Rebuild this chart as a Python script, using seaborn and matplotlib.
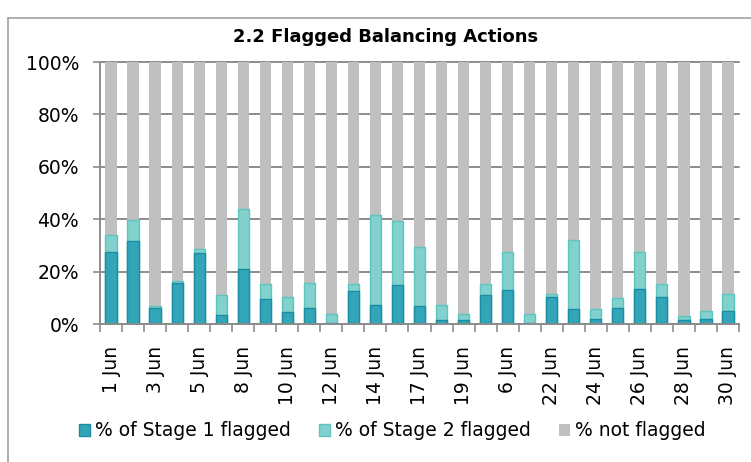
import seaborn as sns
import matplotlib.pyplot as plt
import pandas as pd
from matplotlib.lines import Line2D
from matplotlib.ticker import FuncFormatter

# 29 days shown; only every other label is drawn on the axis
days = ['1 Jun', '2 Jun', '3 Jun', '4 Jun', '5 Jun', '7 Jun', '8 Jun', '9 Jun',
        '10 Jun', '11 Jun', '12 Jun', '13 Jun', '14 Jun', '16 Jun', '17 Jun',
        '18 Jun', '19 Jun', '20 Jun', '6 Jun', '21 Jun', '22 Jun', '23 Jun',
        '24 Jun', '25 Jun', '26 Jun', '27 Jun', '28 Jun', '29 Jun', '30 Jun']
stage1 = [27.6, 31.5, 6.0, 15.8, 27.0, 3.4, 21.1, 9.4, 4.5, 6.2, 0.3, 12.7,
          7.4, 14.9, 6.9, 1.4, 1.4, 11.1, 12.9, 0.4, 10.2, 5.6, 2.0, 6.2,
          13.5, 10.2, 1.7, 2.0, 4.8]
stage2 = [6.2, 8.3, 0.8, 0.5, 1.8, 7.6, 22.9, 5.9, 5.8, 9.6, 3.4, 2.6,
          34.1, 24.5, 22.3, 5.7, 2.3, 4.1, 14.6, 3.4, 1.1, 26.5, 3.7, 3.7,
          14.1, 5.0, 1.2, 3.1, 6.8]

df = pd.DataFrame({'day': days, 'stage1': stage1, 'stage2': stage2})
df['not_flagged'] = 100 - df['stage1'] - df['stage2']

sns.set_style('white')
plt.rcParams['font.family'] = ['DejaVu Sans']
plt.rcParams['text.color'] = 'black'
plt.rcParams['xtick.color'] = 'black'
plt.rcParams['ytick.color'] = 'black'

fig = plt.figure(figsize=(7.51, 4.62), dpi=100)
ax = fig.add_axes([100 / 751, 1 - 324 / 462, 639 / 751, 262 / 462])

w = 0.51
# stacked: draw cumulative heights from top layer down
sns.barplot(x=df['day'], y=df['stage1'] + df['stage2'] + df['not_flagged'],
            color='#c0c0c0', width=w, linewidth=0, saturation=1,
            label='% not flagged', ax=ax)
sns.barplot(x=df['day'], y=df['stage1'] + df['stage2'], color='#82d1cc',
            width=w, edgecolor='#5cc5be', linewidth=1, saturation=1,
            label='% of Stage 2 flagged', ax=ax)
sns.barplot(x=df['day'], y=df['stage1'], color='#33a5b9', width=w,
            edgecolor='#1a8da2', linewidth=1, saturation=1,
            label='% of Stage 1 flagged', ax=ax)
if ax.get_legend() is not None:
    ax.get_legend().remove()

ax.set_xlim(-0.5, len(days) - 0.5)
ax.set_ylim(0, 100)
ax.set_xlabel('')
ax.set_ylabel('')
ax.set_yticks(range(0, 101, 20))
ax.yaxis.set_major_formatter(FuncFormatter(lambda v, p: f'{v:.0f}%'))

ax.set_xticks(range(0, len(days), 2))
ax.set_xticklabels(days[::2], rotation=90)
ax.set_xticks([i - 0.5 for i in range(len(days) + 1)], minor=True)
ax.tick_params(axis='x', which='major', length=0, pad=16, labelsize=13.5,
               labelcolor='black')
ax.tick_params(axis='x', which='minor', length=6, width=1.2, color='#8c8c8c',
               direction='out', bottom=True)
ax.tick_params(axis='y', length=5, width=1.2, color='#8c8c8c', pad=10,
               labelsize=13.5, left=True, labelcolor='black')

ax.yaxis.grid(True, color='#8c8c8c', linewidth=1.4)
for gl in ax.get_ygridlines():
    gl.set_clip_on(False)
ax.set_axisbelow(True)
for s in ['top', 'right']:
    ax.spines[s].set_visible(False)
for s in ['left', 'bottom']:
    ax.spines[s].set_color('#8c8c8c')
    ax.spines[s].set_linewidth(1.4)
    ax.spines[s].set_zorder(3)

fig.text(386 / 751, 1 - 42.5 / 462, '2.2 Flagged Balancing Actions',
         ha='center', va='baseline', fontsize=13, fontweight='bold',
         color='black')

h, l = ax.get_legend_handles_labels()
fig.legend(h[::-1], l[::-1], loc='center', bbox_to_anchor=(392 / 751, 1 - 431 / 462),
           ncol=3, frameon=False, fontsize=13.5, handlelength=0.6,
           handleheight=0.6, handletextpad=0.25, columnspacing=1.5,
           borderaxespad=0)

# outer chart frame: only top and left edges fall inside the image
x0, y0 = 8 / 751, 1 - 18 / 462
fig.add_artist(Line2D([x0, 1.0], [y0, y0], transform=fig.transFigure,
                      color='#a0a0a0', linewidth=1.2))
fig.add_artist(Line2D([x0, x0], [y0, 0.0], transform=fig.transFigure,
                      color='#a0a0a0', linewidth=1.2))

fig.savefig('out.png', dpi=100)
